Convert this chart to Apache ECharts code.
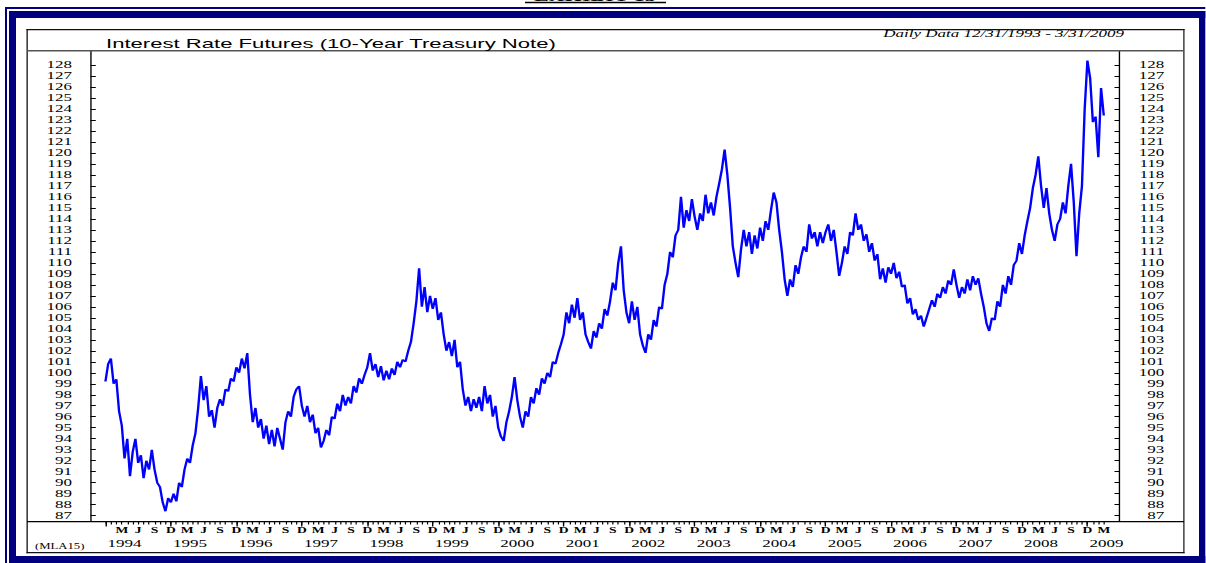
<!DOCTYPE html>
<html>
<head>
<meta charset="utf-8">
<title>Interest Rate Futures (10-Year Treasury Note)</title>
<script src="https://cdn.jsdelivr.net/npm/echarts@6/dist/echarts.min.js"></script>
<style>
html, body { margin: 0; padding: 0; background: #fff; overflow: hidden; }
#chart { height: 563px; transform-origin: 0 0; }
</style>
</head>
<body>
<div id="chart"></div>
<script>
// the scanned original is stretched sideways, so the chart is drawn narrow and scaled in x
var SX = 1.7
function px (x) { return x / SX }

// months after 12/31/1993, one reading every half month
var STEP = 0.5
var closeValues = [
  99.2,
  // 1994
  100.8, 101.3, 99.0, 99.4, 96.5, 95.2, 92.2, 94.0, 90.6, 92.8, 94.0, 91.8,
  92.5, 90.4, 92.0, 91.2, 93.0, 91.2, 90.0, 89.6, 88.2, 87.4, 88.6, 88.2,
  // 1995
  89.0, 88.3, 90.0, 89.6, 91.2, 92.2, 91.8, 93.4, 94.5, 96.8, 99.7, 97.5,
  98.8, 96.0, 96.6, 95.0, 96.8, 97.6, 97.0, 98.5, 98.3, 99.5, 99.2, 100.5,
  // 1996
  100.0, 101.3, 100.4, 101.8, 98.0, 95.5, 96.8, 95.0, 95.8, 94.0, 95.2, 93.5,
  94.8, 93.3, 95.0, 94.0, 93.0, 95.5, 96.5, 96.0, 97.8, 98.5, 98.8, 97.0,
  // 1997
  96.0, 97.0, 95.5, 96.2, 94.5, 95.0, 93.2, 93.8, 94.8, 94.3, 96.0, 95.8,
  97.2, 96.5, 98.0, 97.0, 97.8, 97.2, 98.8, 98.2, 99.5, 99.0, 99.8, 100.5,
  // 1998
  101.8, 100.2, 100.8, 99.6, 100.6, 99.3, 100.2, 99.4, 100.4, 99.8, 101.0, 100.5,
  101.2, 101.0, 102.0, 102.8, 104.5, 106.5, 109.5, 106.0, 107.8, 105.5, 107.0, 105.8,
  // 1999
  106.8, 104.8, 105.5, 103.5, 102.0, 102.8, 101.5, 103.0, 100.5, 101.0, 98.5, 97.0,
  97.8, 96.5, 97.6, 96.8, 97.8, 96.5, 98.8, 97.2, 98.0, 96.0, 97.0, 95.0,
  // 2000
  94.2, 93.8, 95.5, 96.5, 97.8, 99.6, 97.5, 96.0, 95.0, 96.5, 96.0, 97.8,
  97.2, 98.6, 98.0, 99.5, 99.0, 100.0, 99.6, 101.0, 100.8, 101.8, 102.6, 103.5,
  // 2001
  105.5, 104.5, 106.2, 105.0, 106.8, 104.8, 105.5, 103.5, 102.8, 102.2, 103.8, 103.2,
  104.5, 104.0, 105.8, 105.2, 106.5, 108.2, 107.5, 110.0, 111.5, 107.5, 105.5, 104.5,
  // 2002
  106.5, 104.8, 106.0, 103.5, 102.5, 101.8, 103.5, 103.0, 104.8, 104.2, 106.0, 105.8,
  108.0, 109.0, 111.0, 110.5, 112.5, 113.0, 116.0, 113.2, 114.8, 113.8, 115.8, 114.2,
  // 2003
  113.0, 114.5, 113.8, 116.2, 114.5, 115.5, 114.3, 116.0, 117.2, 118.5, 120.3, 118.0,
  115.0, 111.5, 110.0, 108.7, 111.2, 113.0, 111.5, 112.8, 110.8, 112.5, 111.3, 113.2,
  // 2004
  112.0, 113.8, 113.0, 114.8, 116.4, 115.5, 113.0, 111.0, 108.5, 107.0, 108.5, 107.8,
  109.8, 109.0, 110.5, 111.5, 111.0, 113.5, 112.2, 112.8, 111.5, 112.8, 111.8, 112.8,
  // 2005
  113.5, 112.0, 113.0, 111.0, 108.8, 110.0, 111.5, 110.8, 112.8, 112.5, 114.5, 113.0,
  113.5, 112.0, 112.6, 111.0, 111.8, 110.2, 110.8, 108.5, 109.5, 108.2, 109.6, 109.0,
  // 2006
  110.0, 108.6, 109.2, 107.8, 108.0, 106.3, 106.8, 105.3, 105.8, 104.8, 105.2, 104.2,
  105.0, 105.8, 106.6, 106.0, 107.2, 106.8, 107.8, 107.2, 108.4, 108.0, 109.4, 108.0,
  // 2007
  106.8, 107.8, 107.2, 108.5, 107.5, 108.8, 108.0, 108.6, 107.2, 106.0, 104.5, 103.8,
  105.0, 104.8, 106.5, 106.0, 108.0, 107.2, 108.8, 108.0, 109.8, 110.2, 111.8, 110.8,
  // 2008
  112.5, 113.8, 115.0, 116.8, 118.0, 119.7, 117.0, 115.0, 116.8, 114.5, 113.0, 112.0,
  113.5, 114.0, 115.5, 114.5, 117.0, 119.0, 115.5, 110.6, 114.5, 117.0, 124.0, 128.4,
  // 2009
  126.8, 122.8, 123.3, 119.6, 125.9, 123.4
]

var yearLabels = ['1994', '1995', '1996', '1997', '1998', '1999', '2000', '2001',
  '2002', '2003', '2004', '2005', '2006', '2007', '2008', '2009']
var monthLetters = ['D', 'M', 'J', 'S']
var yTickValues = [87, 88, 89, 90, 91, 92, 93, 94, 95, 96, 97, 98, 99, 100, 101, 102,
  103, 104, 105, 106, 107, 108, 109, 110, 111, 112, 113, 114, 115, 116, 117, 118,
  119, 120, 121, 122, 123, 124, 125, 126, 127, 128]

var X_MIN = -2.7, X_MAX = 185.9
var Y_MIN = 86.47, Y_MAX = 129.27
var LAST_MONTH = 183

var monthTicks = [], quarterTicks = [], yearTicks = [], yearLabelPos = []
for (var m = 0; m <= LAST_MONTH; m++) {
  monthTicks.push(m)
  if (m > 0 && m % 3 === 0) quarterTicks.push(m)
  if (m % 12 === 0 && m < LAST_MONTH) yearTicks.push(m)
}
yearLabels.forEach(function (y, i) { yearLabelPos.push(i * 12 + 3.5) })

var seriesData = closeValues.map(function (v, i) { return [i * STEP, v] })

var SERIF = '"Liberation Serif", "Times New Roman", serif'
var SANS = '"Liberation Sans", Arial, sans-serif'

function bar (x0, y0, x1, y1, color) {
  return { type: 'rect', silent: true, z: 10,
    shape: { x: px(x0), y: y0, width: px(x1 - x0), height: y1 - y0 },
    style: { fill: color } }
}
function label (text, x, y, font, align) {
  return { type: 'text', silent: true, z: 10,
    style: { text: text, x: px(x), y: y, font: font, fill: '#000',
      textAlign: align || 'left', textVerticalAlign: 'middle' } }
}

var dom = document.getElementById('chart')
dom.style.width = (1206 / SX) + 'px'
dom.style.transform = 'scaleX(' + SX + ')'
var chart = echarts.init(dom, null, { renderer: 'svg' })

var navy = '#000080'
var yAxisBase = {
  type: 'value', min: Y_MIN, max: Y_MAX, splitLine: { show: false },
  axisLine: { show: true, onZero: false, lineStyle: { color: '#000', width: 0.8 } },
  axisTick: { show: true, inside: true, length: 3, customValues: yTickValues,
    lineStyle: { color: '#000', width: 1 } }
}

chart.setOption({
  animation: false,
  backgroundColor: '#fff',
  grid: { left: px(90.7), right: px(1206 - 1120.3), top: 51, bottom: 563 - 521.5 },
  xAxis: [
    { type: 'value', position: 'bottom', min: X_MIN, max: X_MAX,
      axisLine: { show: false, onZero: false }, splitLine: { show: false },
      axisTick: { show: true, length: 3, customValues: monthTicks,
        lineStyle: { color: '#000', width: 0.7 } },
      axisLabel: { show: true, customValues: quarterTicks, margin: 5,
        fontFamily: SERIF, fontSize: 8, fontWeight: 'bold', color: '#000',
        formatter: function (v) { return monthLetters[(Math.round(v) % 12) / 3] } } },
    { type: 'value', position: 'bottom', min: X_MIN, max: X_MAX,
      axisLine: { show: false, onZero: false }, splitLine: { show: false },
      axisTick: { show: true, length: 5, customValues: yearTicks,
        lineStyle: { color: '#000', width: 0.8 } },
      axisLabel: { show: false } },
    { type: 'value', position: 'bottom', min: X_MIN, max: X_MAX,
      axisLine: { show: false, onZero: false }, splitLine: { show: false },
      axisTick: { show: false },
      axisLabel: { show: true, customValues: yearLabelPos, margin: 17,
        fontFamily: SERIF, fontSize: 10, color: '#000',
        formatter: function (v) { return yearLabels[Math.round((v - 3.5) / 12)] } } }
  ],
  yAxis: [
    Object.assign({}, yAxisBase, { position: 'left',
      axisLabel: { customValues: yTickValues, margin: px(18.7), fontFamily: SERIF,
        fontSize: 10, color: '#000' } }),
    Object.assign({}, yAxisBase, { position: 'right',
      axisLabel: { customValues: yTickValues, margin: px(44.7), align: 'right',
        fontFamily: SERIF, fontSize: 10, color: '#000' } })
  ],
  series: [{
    name: '10-Year Treasury Note',
    type: 'line',
    xAxisIndex: 0,
    yAxisIndex: 0,
    data: seriesData,
    showSymbol: false,
    lineStyle: { color: '#0000ff', width: 1.4 }
  }],
  graphic: [
    // outer navy frame
    bar(5, 7, 7, 563, navy), bar(5, 7, 1206, 9, navy),
    bar(9, 11, 16, 563, navy), bar(9, 11, 1206, 18, navy),
    bar(1199, 11, 1206, 563, navy), bar(9, 556, 1206, 563, navy),
    // inner box and dividers
    bar(26.5, 29, 1184.5, 30.3, '#111'), bar(26.5, 29, 27.8, 553.3, '#111'),
    bar(1183.3, 29, 1184.5, 553.3, '#111'), bar(26.5, 552, 1184.5, 553.3, '#111'),
    bar(27, 50, 1184, 51.5, '#555'), bar(27, 521, 1184, 522.3, '#000'),
    // cut-off heading at the very top
    bar(525, 1.7, 666, 3.3, '#000'),
    { type: 'text', silent: true, z: 10,
      style: { text: 'EXHIBIT 13', x: px(595), y: 3.6, font: 'bold 13px ' + SERIF,
        fill: '#000', textAlign: 'center', textVerticalAlign: 'bottom' } },
    label('Interest Rate Futures (10-Year Treasury Note)', 106, 43.5, '13px ' + SANS),
    label('Daily Data 12/31/1993 - 3/31/2009', 1124, 34, 'italic 10px ' + SERIF, 'right'),
    label('(MLA15)', 35, 546.5, '7.5px ' + SERIF)
  ]
})
</script>
</body>
</html>
